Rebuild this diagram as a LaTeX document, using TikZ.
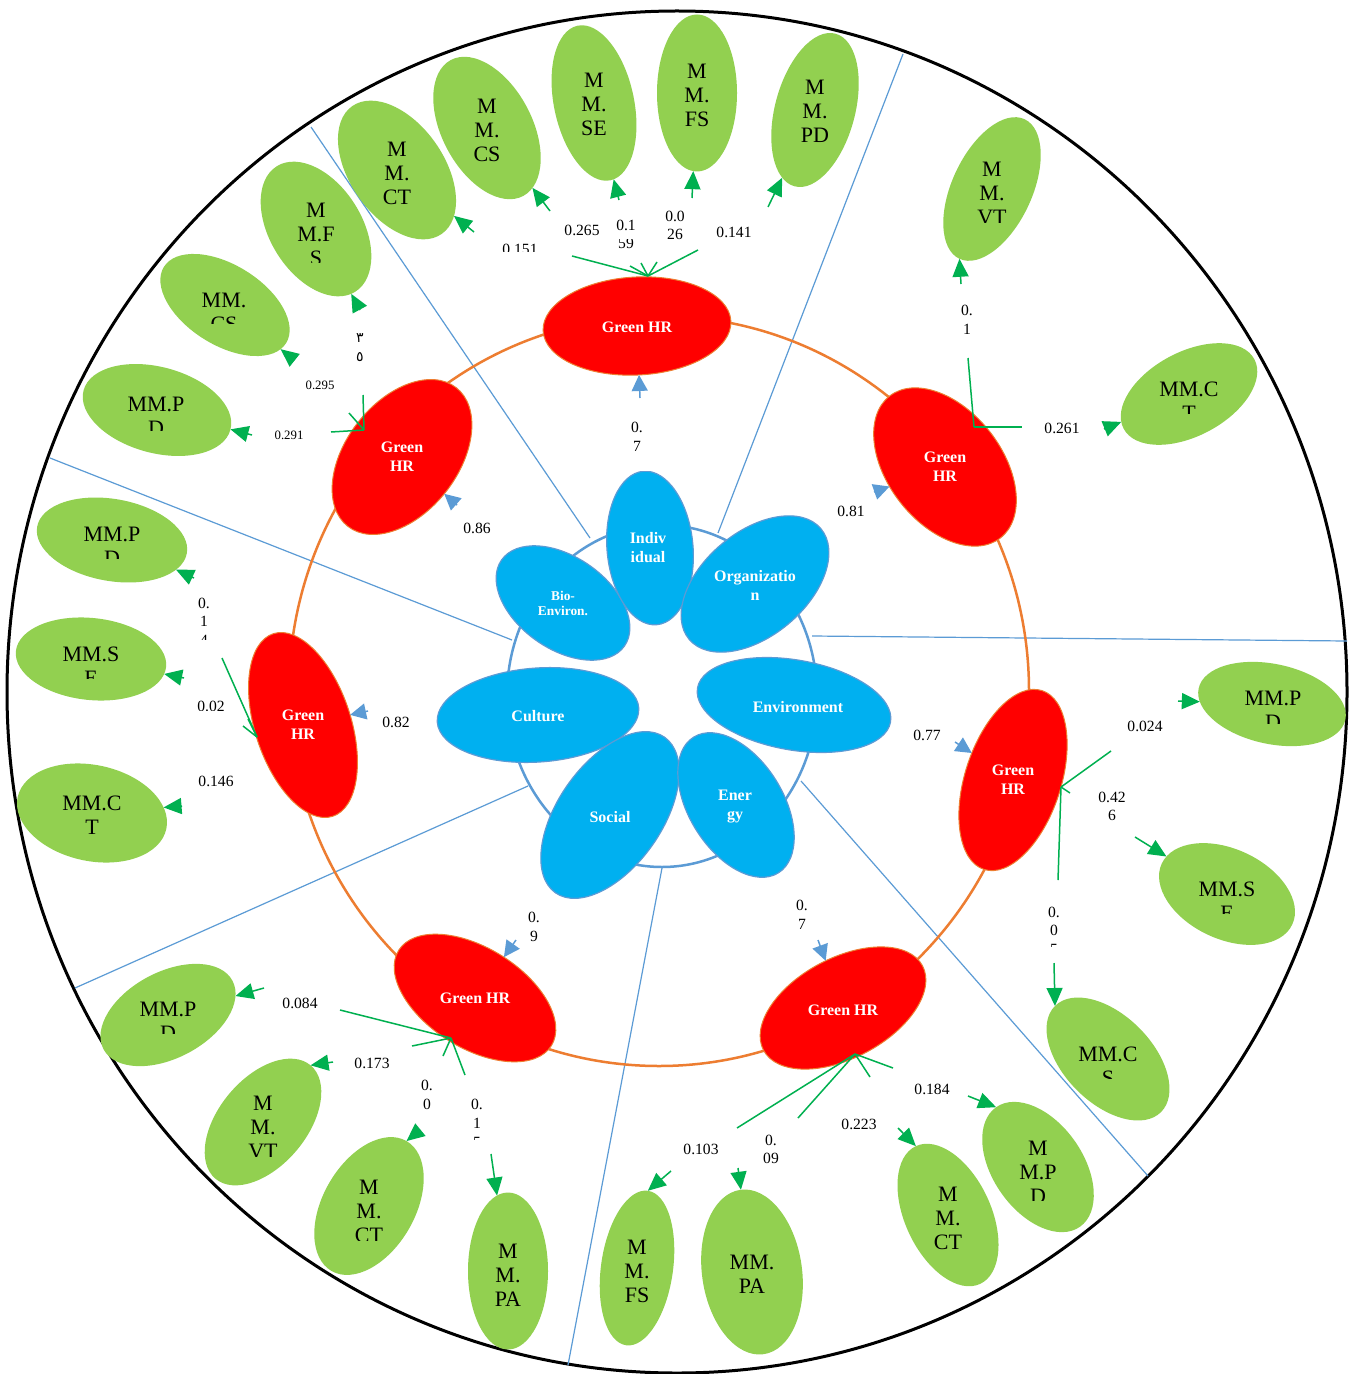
\documentclass[tikz,border=0pt]{standalone}
\usepackage{fontspec}
\setmainfont{Liberation Serif}
\newfontfamily\arabicfont[Script=Arabic]{DejaVu Sans}
\usetikzlibrary{shapes.geometric,arrows.meta,calc}
\definecolor{mmgreen}{HTML}{92D050}
\definecolor{hrred}{HTML}{FF0000}
\definecolor{hrborder}{HTML}{ED7D31}
\definecolor{petalblue}{HTML}{00B0F0}
\definecolor{lineblue}{HTML}{5B9BD5}
\definecolor{arrowgreen}{HTML}{00B050}
\definecolor{ringorange}{HTML}{ED7D31}
% green ellipse: name, x, y, semi-major (px), semi-minor (px), rotation
\newcommand\mmshape[6]{\node[mmell, minimum width=#4pt, minimum height=#5pt, rotate=#6] (#1) at (#2,#3) {};}
\newcommand\mmlab[4]{\node[mmtxt] (#1) at (#2,#3) {#4};}
\newcommand\mmlabclip[5]{\begin{scope}\clip (#2-150,#3-150) rectangle (#2+150,#5);\node[mmtxt] (#1) at (#2,#3) {#4};\end{scope}}
\newcommand\numlab[4]{\node[num] (#1) at (#2,#3) {#4};}
\newcommand\numlabclip[5]{\begin{scope}\clip (#2-80,#3-80) rectangle (#2+80,#5);\node[num] (#1) at (#2,#3) {#4};\end{scope}}
\newcommand\hrshape[6]{\node[hrell, minimum width=#4pt, minimum height=#5pt, rotate=#6] (#1) at (#2,#3) {};}
\newcommand\ptshape[6]{\node[petal, minimum width=#4pt, minimum height=#5pt, rotate=#6] (#1) at (#2,#3) {};}
\begin{document}
\begin{tikzpicture}[x=0.5pt,y=-0.5pt,
  mmell/.style={ellipse, fill=mmgreen, inner sep=0pt, outer sep=0pt},
  hrell/.style={ellipse, fill=hrred, draw=hrborder, line width=0.5pt, inner sep=0pt, outer sep=0pt},
  petal/.style={ellipse, fill=petalblue, draw=lineblue, line width=0.6pt, inner sep=0pt, outer sep=0pt},
  mmtxt/.style={font=\fontsize{11}{12}\selectfont, align=center, inner sep=0pt},
  hrtxt/.style={font=\bfseries\fontsize{8}{9.5}\selectfont, text=white, align=center, inner sep=0pt},
  pttxt/.style={font=\bfseries\fontsize{8}{9.5}\selectfont, text=white, align=center, inner sep=0pt},
  num/.style={font=\fontsize{7.8}{9.35}\selectfont, align=center, inner sep=0pt},
  numsmall/.style={font=\fontsize{6.4}{8}\selectfont, align=center, inner sep=0pt},
  gline/.style={draw=arrowgreen, line width=0.75pt},
  garrow/.style={draw=arrowgreen, line width=0.75pt, -{Triangle[length=9pt,width=8pt]}},
  barrow/.style={draw=lineblue, line width=0.75pt, -{Triangle[length=8pt,width=8pt]}},
  divider/.style={draw=lineblue, line width=0.6pt},
]
\useasboundingbox (0,0) rectangle (1354,1374);
\fill[white] (0,0) rectangle (1354,1374);
% outer circle
\draw[line width=1.5pt] (677,692) ellipse [x radius=335pt, y radius=340.5pt];
% dividers
\draw[divider] (590,538) -- (311,127);
\draw[divider] (718,533) -- (903,54);
\draw[divider] (512,640) -- (50,458);
\draw[divider] (812,636) -- (1347,641);
\draw[divider] (528,786) -- (75,988);
\draw[divider] (662,868) -- (568,1365);
\draw[divider] (801,781) -- (1148,1176);
% orange ring and inner ring
\draw[ringorange, line width=1.25pt] (659,691) ellipse [x radius=185pt, y radius=187.5pt];
\draw[lineblue, line width=1.25pt] (662,696) ellipse [x radius=77.5pt, y radius=85.5pt];
% petals
\ptshape{pBio}{563}{603}{75}{46}{-35}
\begin{scope}
\clip (0,471) rectangle (1354,1374);
\ptshape{pInd}{650}{548}{77}{43}{-85}
\end{scope}
\ptshape{pOrg}{755}{584}{86}{52}{40}
\ptshape{pEnv}{794}{705}{98}{45}{-10}
\ptshape{pCul}{538}{715}{101}{47}{4}
\ptshape{pSoc}{610}{815}{95}{52}{55}
\ptshape{pEne}{736}{805}{80}{47}{-58}
\node[pttxt, font=\bfseries\fontsize{6.7}{7.5}\selectfont] (tBio) at (563,603.5) {Bio-\\Environ.};
\node[pttxt] (tInd) at (648,547.5) {Indiv\\idual};
\node[pttxt] (tOrg) at (755,585.5) {Organizatio\\n};
\node[pttxt] (tEnv) at (798,707) {Environment};
\node[pttxt] (tCul) at (538,716) {Culture};
\node[pttxt] (tSoc) at (610,817) {Social};
\node[pttxt] (tEne) at (735,807) {Ener\\gy};
% Green HR nodes
\hrshape{hrT}{637}{326}{94}{49}{3}
\hrshape{hrUL}{402}{457}{88}{56}{52}
\hrshape{hrUR}{945}{467}{90}{57}{-52}
\hrshape{hrL}{303}{725}{96}{48}{-72}
\hrshape{hrR}{1013}{780}{94}{48}{72}
\hrshape{hrBL}{475}{998}{90}{50}{-32}
\hrshape{hrBR}{843}{1008}{90}{50}{28}
\node[hrtxt] (thrT) at (637,327) {Green HR};
\node[hrtxt] (thrUL) at (402,457) {Green\\HR};
\node[hrtxt] (thrUR) at (945,467) {Green\\HR};
\node[hrtxt] (thrL) at (303,725) {Green\\HR};
\node[hrtxt] (thrR) at (1013,780) {Green\\HR};
\node[hrtxt] (thrBL) at (475,998) {Green HR};
\node[hrtxt] (thrBR) at (843,1010) {Green HR};
% green indicator ellipses
\mmshape{mmA}{397}{170}{78}{47}{-55}
\mmshape{mmB}{487}{128}{77}{45}{-62}
\mmshape{mmC}{594}{103}{79}{40}{-78}
\mmshape{mmD}{697}{93}{78.5}{40}{90}
\mmshape{mmE}{815}{110}{79}{40}{75}
\mmshape{mmF}{316}{229}{74}{46}{-58}
\mmshape{mmG}{225}{305}{72}{40}{-32}
\mmshape{mmH}{157}{410}{76}{43}{-15}
\mmshape{mmI}{992}{189}{77}{40}{65}
\mmshape{mmJ}{1189}{394}{74}{42}{28}
\mmshape{mmK}{112}{540}{76}{41}{-10}
\mmshape{mmL}{91}{659}{75.5}{41}{-6}
\mmshape{mmM}{92}{813}{76}{48}{-12}
\mmshape{mmN}{1272}{704}{75}{40}{-12}
\mmshape{mmO}{1227}{894}{72}{45}{-25}
\mmshape{mmP}{1108}{1059}{75}{44}{-45}
\mmshape{mmQ}{168}{1015}{73}{43}{28}
\mmshape{mmR}{263}{1122}{74}{44}{50}
\mmshape{mmS}{369}{1206}{75}{46}{60}
\mmshape{mmT}{508}{1271}{78.5}{40}{90}
\mmshape{mmU}{637}{1268}{78}{36}{82}
\mmshape{mmV}{752}{1272}{83}{50}{-82}
\mmshape{mmW}{948}{1215}{76}{43}{-65}
\mmshape{mmX}{1038}{1167}{73}{45}{-55}
% their texts
\mmlab{xA}{397}{173}{M\\M.\\CT}
\mmlab{xB}{487}{130}{M\\M.\\CS}
\mmlab{xC}{594}{104}{M\\M.\\SE}
\mmlab{xD}{697}{95}{M\\M.\\FS}
\mmlab{xE}{815}{111.5}{M\\M.\\PD}
\mmlabclip{xF}{316}{234}{M\\M.F\\S}{263}
\mmlabclip{xG}{224}{312}{MM.\\CS}{324}
\mmlabclip{xH}{156}{416.5}{MM.P\\D}{430}
\mmlabclip{xI}{992}{193}{M\\M.\\VT}{223}
\mmlabclip{xJ}{1189}{401.5}{MM.C\\T}{413}
\mmlabclip{xK}{112}{546}{MM.P\\D}{558}
\mmlabclip{xL}{91}{666.5}{MM.S\\E}{678}
\mmlab{xM}{92}{815}{MM.C\\T}
\mmlabclip{xN}{1273}{710.5}{MM.P\\D}{723}
\mmlabclip{xO}{1227}{901}{MM.S\\E}{913}
\mmlabclip{xP}{1108}{1066.5}{MM.C\\S}{1078}
\mmlabclip{xQ}{168}{1021}{MM.P\\D}{1033}
\mmlabclip{xR}{263}{1127}{M\\M.\\VT}{1156}
\mmlabclip{xS}{369}{1211}{M\\M.\\CT}{1240}
\mmlab{xT}{508}{1275}{M\\M.\\PA}
\mmlab{xU}{637}{1271.5}{M\\M.\\FS}
\mmlab{xV}{752}{1274}{MM.\\PA}
\mmlab{xW}{948}{1218.5}{M\\M.\\CT}
\mmlabclip{xX}{1038}{1172.5}{M\\M.P\\D}{1200}
% blue arrows (dimension -> Green HR)
\coordinate (bT) at (640,398);
\coordinate (bUL) at (457,505);
\coordinate (bUR) at (874,492);
\coordinate (bL) at (368,711);
\coordinate (bR) at (955,742);
\coordinate (bBL) at (516,940);
\coordinate (bBR) at (818,940);
\draw[barrow] (bT) -- (hrT);
\draw[barrow] (bUL) -- (hrUL);
\draw[barrow] (bUR) -- (hrUR);
\draw[barrow] (bL) -- (hrL);
\draw[barrow] (bR) -- (hrR);
\draw[barrow] (bBL) -- (hrBL);
\draw[barrow] (bBR) -- (hrBR);
% green connectors: convergence points, stub ends, arrow starts
\coordinate (cT) at (648,276);
\coordinate (sT1) at (572,256); \coordinate (sT2) at (630,266); \coordinate (sT3) at (641,263);
\coordinate (sT4) at (657,262); \coordinate (sT5) at (698,250);
\coordinate (tT1) at (474,232); \coordinate (tT2) at (550,211); \coordinate (tT3) at (619,200);
\coordinate (tT4) at (692,198); \coordinate (tT5) at (768,207);
\draw[gline] (cT) -- (sT1); \draw[garrow] (tT1) -- (mmA);
\draw[gline] (cT) -- (sT2); \draw[garrow] (tT2) -- (mmB);
\draw[gline] (cT) -- (sT3); \draw[garrow] (tT3) -- (mmC);
\draw[gline] (cT) -- (sT4); \draw[garrow] (tT4) -- (mmD);
\draw[gline] (cT) -- (sT5); \draw[garrow] (tT5) -- (mmE);
\coordinate (cUL) at (364,430);
\coordinate (sUL1) at (363,395); \coordinate (sUL2) at (349,413); \coordinate (sUL3) at (331,432);
\coordinate (tUL1) at (360,310); \coordinate (tUL2) at (293,359); \coordinate (tUL3) at (252,435);
\draw[gline] (cUL) -- (sUL1); \draw[garrow] (tUL1) -- (mmF);
\draw[gline] (cUL) -- (sUL2); \draw[garrow] (tUL2) -- (mmG);
\draw[gline] (cUL) -- (sUL3); \draw[garrow] (tUL3) -- (mmH);
\coordinate (cUR) at (974,427);
\coordinate (sUR1) at (968,358); \coordinate (sUR2) at (1022,427);
\coordinate (tUR1) at (961,284); \coordinate (tUR2) at (1104,429);
\draw[gline] (cUR) -- (sUR1); \draw[garrow] (tUR1) -- (mmI.west);
\draw[gline] (cUR) -- (sUR2); \draw[garrow] (tUR2) -- (mmJ);
\coordinate (cL) at (257,737);
\coordinate (sL1) at (222,658); \coordinate (sL2) at (248,719); \coordinate (sL3) at (243,726);
\coordinate (tL1) at (194,578); \coordinate (tL2) at (184,678); \coordinate (tL3) at (182,806);
\draw[gline] (cL) -- (sL1); \draw[garrow] (tL1) -- (mmK);
\draw[gline] (cL) -- (sL2); \draw[garrow] (tL2) -- (mmL);
\draw[gline] (cL) -- (sL3); \draw[garrow] (tL3) -- (mmM);
\coordinate (cR) at (1061,787);
\coordinate (sR1) at (1111,751); \coordinate (sR2) at (1070,793); \coordinate (sR3) at (1058,880);
\coordinate (tR1) at (1178,701); \coordinate (tR2) at (1135,837); \coordinate (tR3) at (1054,963);
\draw[gline] (cR) -- (sR1); \draw[garrow] (tR1) -- (mmN);
\draw[gline] (cR) -- (sR2); \draw[garrow] (tR2) -- (mmO);
\draw[gline] (cR) -- (sR3); \draw[garrow] (tR3) -- (mmP.west);
\coordinate (cBL) at (451,1038);
\coordinate (sBL1) at (340,1010); \coordinate (sBL2) at (412,1046); \coordinate (sBL3) at (443,1056); \coordinate (sBL4) at (465,1075);
\coordinate (tBL1) at (264,988); \coordinate (tBL2) at (333,1062); \coordinate (tBL3) at (420,1130); \coordinate (tBL4) at (491,1154);
\draw[gline] (cBL) -- (sBL1); \draw[garrow] (tBL1) -- (mmQ);
\draw[gline] (cBL) -- (sBL2); \draw[garrow] (tBL2) -- (mmR.east);
\draw[gline] (cBL) -- (sBL3); \draw[garrow] (tBL3) -- (mmS.east);
\draw[gline] (cBL) -- (sBL4); \draw[garrow] (tBL4) -- (mmT);
\coordinate (cBR) at (855,1054);
\coordinate (sBR1) at (737,1128); \coordinate (sBR2) at (798,1118); \coordinate (sBR3) at (870,1077); \coordinate (sBR4) at (893,1068);
\coordinate (tBR1) at (671,1171); \coordinate (tBR2) at (738,1168); \coordinate (tBR3) at (898,1128); \coordinate (tBR4) at (968,1096);
\draw[gline] (cBR) -- (sBR1); \draw[garrow] (tBR1) -- (mmU.east);
\draw[gline] (cBR) -- (sBR2); \draw[garrow] (tBR2) -- (mmV);
\draw[gline] (cBR) -- (sBR3); \draw[garrow] (tBR3) -- (mmW.west);
\draw[gline] (cBR) -- (sBR4); \draw[garrow] (tBR4) -- (mmX.west);
% path coefficients
\numlabclip{l1}{520}{249}{0.151}{252}
\numlab{l2}{582}{230}{0.265}
\numlab{l3}{626}{225}{0.1}
\begin{scope}\clip (590,240) rectangle (660,262);\node[num] (l3b) at (626,243) {59};\end{scope}
\numlab{l4}{675}{225.5}{0.0\\26}
\numlab{l5}{734}{232.7}{0.141}
\node[num, font=\arabicfont\fontsize{7}{9.5}\selectfont] (l6) at (360,347.5) {٣\\٥};
\node[numsmall] (l7) at (320,385) {0.295};
\node[numsmall] (l8) at (289,435) {0.291};
\numlab{l9}{967}{319.5}{0.\\1}
\numlab{l10}{1062}{428}{0.261}
\numlabclip{l11}{204}{621.7}{0.\\1\\4}{639}
\numlabclip{l12}{211}{706.7}{0.02}{710}
\numlab{l13}{216}{781}{0.146}
\numlab{l14}{396}{722}{0.82}
\numlab{l15}{477}{528}{0.86}
\numlab{l16}{851}{511}{0.81}
\numlab{l17}{927}{735}{0.77}
\numlab{l18}{1145}{726}{0.024}
\numlab{l19}{1112}{806.3}{0.42\\6}
\numlabclip{l20}{1054}{930.7}{0.\\0\\5}{946}
\numlab{l21}{637}{437}{0.\\7}
\numlab{l22}{534}{927}{0.\\9}
\numlab{l23}{802}{914.5}{0.\\7}
\numlab{l24}{300}{1003}{0.084}
\numlab{l25}{372}{1063}{0.173}
\numlab{l26}{427}{1095}{0.\\0}
\numlabclip{l27}{477}{1123.3}{0.\\1\\5}{1139}
\numlab{l28}{701}{1149.3}{0.103}
\numlab{l29}{771}{1149.5}{0.\\09}
\numlabclip{l30}{859}{1124}{0.223}{1129}
\numlab{l31}{932}{1089}{0.184}
\end{tikzpicture}
\end{document}
